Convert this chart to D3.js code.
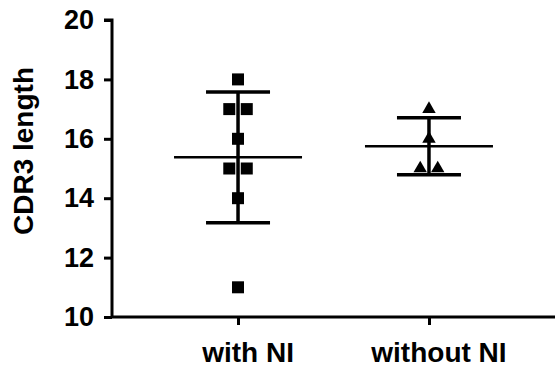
<!DOCTYPE html>
<style>* {padding:0; margin:0; border: 0; outline: 0;} body {background:#fff;}</style>
<body>
<script src="https://cdn.jsdelivr.net/npm/d3@7"></script>
<script>

groups = ["with NI", "without NI"]
withNI = [18, 17, 17, 16, 15, 15, 14, 11]
withoutNI = [17, 16, 15, 15]
yTicks = [10, 12, 14, 16, 18, 20]

width = 556
height = 367
font = "'Liberation Sans', Arial, sans-serif"

svg = d3.select('body')
        .append('svg')
          .attr('width', width)
          .attr('height', height)
          .style('font-family', font)
          .style('font-weight', 'bold')

y = d3.scaleLinear().domain([10, 20]).range([317, 20])
x = d3.scalePoint().domain(groups).range([112, 555]).padding(0.66)

// axes
yAxis = svg.append('g')
  .attr('transform', 'translate(112,0)')
  .call(d3.axisLeft(y).tickValues(yTicks).tickSize(8).tickPadding(10))
xAxis = svg.append('g')
  .attr('transform', 'translate(0,317)')
  .call(d3.axisBottom(x).tickSize(8).tickFormat(''))

svg.selectAll('.domain, .tick line')
   .attr('stroke', '#000')
   .attr('stroke-width', 3)
yAxis.select('.domain').attr('d', 'M-8,20H0V317')
xAxis.select('.domain').attr('d', 'M112,0H555')

yAxis.selectAll('text')
  .style('font-size', '27px')
  .style('font-family', font)
  .style('font-weight', 'bold')
  .attr('fill', '#000')

svg.selectAll('.xlab')
   .data(groups)
 .enter().append('text')
   .attr('x', function(d){return x(d) + 10})
   .attr('y', 362)
   .attr('text-anchor', 'middle')
   .style('font-size', '28px')
   .text(function(d){return d})

svg.append('text')
   .attr('transform', 'translate(33,151) rotate(-90)')
   .attr('text-anchor', 'middle')
   .style('font-size', '28px')
   .text('CDR3 length')

// spread repeated values sideways
function jitter(vals){
  var counts = d3.rollup(vals, function(v){return v.length}, function(d){return d})
  var seen = new Map()
  return vals.map(function(v){
    var n = counts.get(v), k = seen.get(v) || 0
    seen.set(v, k + 1)
    return [v, (k - (n - 1) / 2) * 17.5]
  })
}

series = [[groups[0], withNI, d3.symbolSquare], [groups[1], withoutNI, d3.symbolTriangle]]

series.forEach(function(s){
  var cx = x(s[0]), m = d3.mean(s[1]), sd = d3.deviation(s[1])
  var g = svg.append('g')

  g.selectAll('path')
    .data(jitter(s[1]))
  .enter().append('path')
    .attr('d', d3.symbol().type(s[2]).size(s[2] == d3.symbolSquare ? 144 : 78))
    .attr('transform', function(d){return 'translate(' + (cx + d[1]) + ',' + y(d[0]) + ')'})
    .attr('fill', '#000')

  g.append('line')
    .attr('x1', cx).attr('x2', cx)
    .attr('y1', y(m + sd)).attr('y2', y(m - sd))
  g.selectAll('.cap')
    .data([m + sd, m - sd])
  .enter().append('line')
    .attr('x1', cx - 32).attr('x2', cx + 32)
    .attr('y1', function(d){return y(d)}).attr('y2', function(d){return y(d)})
  g.append('line')
    .attr('x1', cx - 64).attr('x2', cx + 64)
    .attr('y1', y(m)).attr('y2', y(m))
    .attr('stroke-width', 2.5)
  g.selectAll('line')
    .attr('stroke', '#000')
    .filter(function(){return !this.getAttribute('stroke-width')})
    .attr('stroke-width', 3.5)
})

</script>
